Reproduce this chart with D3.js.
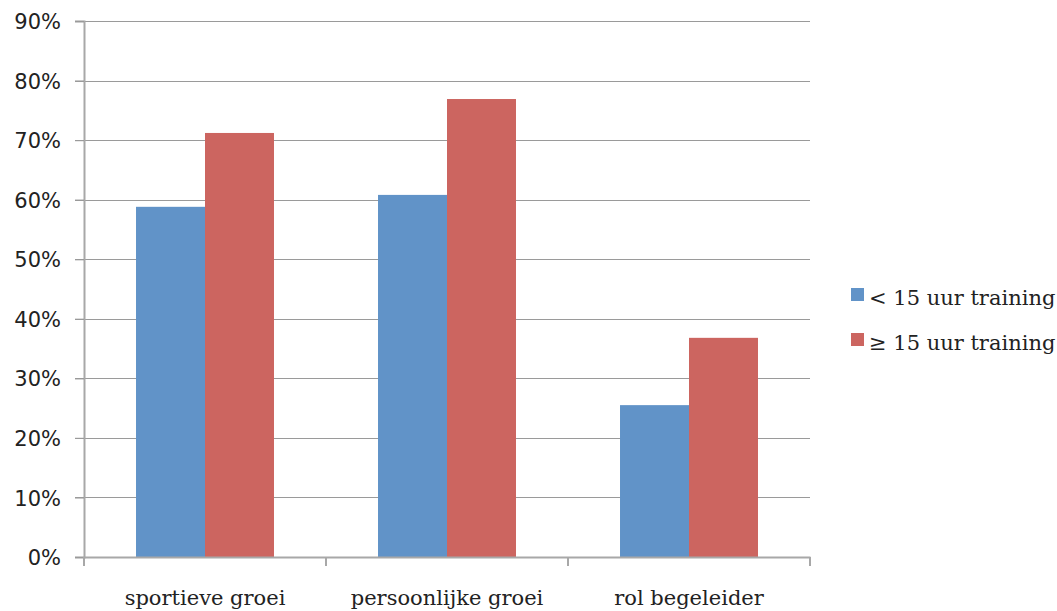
<!DOCTYPE html>
<html><head><meta charset="utf-8">
<script src="https://cdn.jsdelivr.net/npm/d3@7"></script>
<style>html,body{margin:0;padding:0;background:#fff;overflow:hidden}</style>
</head><body>
<svg id="c" width="1057" height="611"></svg>
<script>
const categories = ["sportieve groei", "persoonlijke groei", "rol begeleider"];
const seriesNames = ["< 15 uur training", "≥ 15 uur training"];
const lessThan15 = [0.588, 0.608, 0.255];
const atLeast15 = [0.712, 0.769, 0.368];
const yTicks = [0, 0.1, 0.2, 0.3, 0.4, 0.5, 0.6, 0.7, 0.8, 0.9];
const colors = ["#6193c8", "#cc6560"];

const svg = d3.select("#c");
const L = 84, R = 810, T = 21, B = 557;
const y = d3.scaleLinear().domain([0, 0.9]).range([B, T]);
const x0 = d3.scaleBand().domain(categories).range([L, R]).padding(0);
const x1 = d3.scaleBand().domain(seriesNames).range([0, x0.bandwidth()]).paddingInner(0).paddingOuter(0.754);
const color = d3.scaleOrdinal().domain(seriesNames).range(colors);
const series = [lessThan15, atLeast15];

// gridlines
svg.append("g").selectAll("line").data(yTicks.filter(d => d > 0)).join("line")
  .attr("x1", L - 9).attr("x2", R).attr("y1", d => Math.round(y(d)) + 0.5).attr("y2", d => Math.round(y(d)) + 0.5)
  .attr("stroke", "#9a9a9a").attr("stroke-width", 1.2);

// bars
const g = svg.append("g").selectAll("g").data(categories).join("g")
  .attr("transform", d => `translate(${x0(d)},0)`);
g.selectAll("rect").data((c, i) => seriesNames.map((s, j) => ({s, v: series[j][i]}))).join("rect")
  .attr("x", d => x1(d.s)).attr("width", x1.bandwidth())
  .attr("y", d => y(d.v)).attr("height", d => B - y(d.v))
  .attr("fill", d => color(d.s));

// y axis
const yAxis = svg.append("g").attr("transform", `translate(${L},0)`)
  .call(d3.axisLeft(y).tickValues(yTicks).tickFormat(d3.format(".0%")).tickSize(9).tickPadding(14));
yAxis.select(".domain").attr("stroke", "#a8a8a8").attr("stroke-width", 2);
yAxis.selectAll(".tick line").attr("stroke", "#9a9a9a").attr("stroke-width", 1.2);
yAxis.selectAll("text").attr("font-family", "DejaVu Sans").attr("font-size", 21).attr("fill", "#222").attr("dy", "0.36em");

// x axis
const xAxis = svg.append("g").attr("transform", `translate(0,${B})`)
  .call(d3.axisBottom(x0).tickSize(0).tickPadding(0));
xAxis.select(".domain").attr("stroke", "#a8a8a8").attr("stroke-width", 2);
xAxis.selectAll("text").attr("font-family", "DejaVu Serif").attr("font-size", 21).attr("fill", "#222")
  .attr("y", 48).attr("dy", 0);
svg.append("g").selectAll("line").data([L, x0(categories[1]), x0(categories[2]), R]).join("line")
  .attr("x1", d => d).attr("x2", d => d).attr("y1", B).attr("y2", B + 9)
  .attr("stroke", "#a8a8a8").attr("stroke-width", 2);

// legend
const leg = svg.append("g").selectAll("g").data(seriesNames).join("g")
  .attr("transform", (d, i) => `translate(851,${288 + i * 45})`);
leg.append("rect").attr("width", 13).attr("height", 13).attr("fill", d => color(d));
leg.append("text").attr("x", 18).attr("y", 17).text(d => d)
  .attr("font-family", "DejaVu Serif").attr("font-size", 21).attr("fill", "#222");
</script>
</body></html>
